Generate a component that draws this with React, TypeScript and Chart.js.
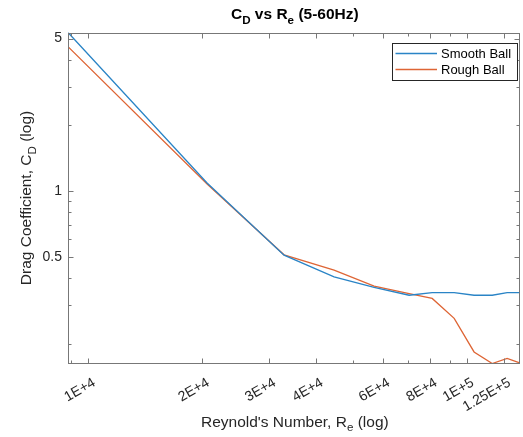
import React, { useEffect, useRef } from 'react';
import { Chart, registerables } from 'chart.js';

Chart.register(...registerables);

// ---- data ----
const reynolds = [8840, 20600, 32900, 44600, 56900, 70400, 81000, 92600, 104500, 116700, 127800, 137900];
const smoothBall = [5.33, 1.088, 0.508, 0.404, 0.362, 0.333, 0.342, 0.342, 0.333, 0.333, 0.342, 0.342];
const roughBall = [4.59, 1.077, 0.51, 0.434, 0.367, 0.339, 0.322, 0.261, 0.183, 0.162, 0.171, 0.163];

const seriesLabels = ['Smooth Ball', 'Rough Ball'];

const xTickValues = [1e4, 2e4, 3e4, 4e4, 6e4, 8e4, 1e5, 1.25e5];
const xTickLabels = ['1E+4', '2E+4', '3E+4', '4E+4', '6E+4', '8E+4', '1E+5', '1.25E+5'];
const xMinorTicks = [9e3, 5e4, 7e4, 9e4];

const yTickValues = [0.5, 1, 5];
const yTickLabels = ['0.5', '1', '5'];
const yMinorTicks = [0.2, 0.3, 0.4, 0.6, 0.7, 0.8, 0.9, 2, 3, 4];

type Part = { text: string; sub?: boolean };
const titleParts: Part[] = [{ text: 'C' }, { text: 'D', sub: true }, { text: ' vs R' }, { text: 'e', sub: true }, { text: ' (5-60Hz)' }];
const xTitleParts: Part[] = [{ text: "Reynold's Number, R" }, { text: 'e', sub: true }, { text: ' (log)' }];
const yTitleParts: Part[] = [{ text: 'Drag Coefficient, C' }, { text: 'D', sub: true }, { text: ' (log)' }];

const FONT = '"Liberation Sans", Arial, Helvetica, sans-serif';
const TEXT = '#262626';
const AXIS = '#777777';
const COLORS = ['#2a84c6', '#de6535'];

function drawRich(ctx: CanvasRenderingContext2D, parts: Part[], x: number, y: number, size: number, weight: string) {
  const subSize = size * 0.75;
  const widths = parts.map((p) => {
    ctx.font = `${weight} ${p.sub ? subSize : size}px ${FONT}`;
    return ctx.measureText(p.text).width;
  });
  const total = widths.reduce((s, w) => s + w, 0);
  let cx = x - total / 2;
  ctx.textAlign = 'left';
  ctx.textBaseline = 'alphabetic';
  parts.forEach((p, i) => {
    ctx.font = `${weight} ${p.sub ? subSize : size}px ${FONT}`;
    ctx.fillText(p.text, cx, y + (p.sub ? size * 0.32 : 0));
    cx += widths[i];
  });
}

const decorPlugin = {
  id: 'decor',
  afterDraw(chart: any) {
    const { ctx, chartArea: a, scales } = chart;
    const xs = scales.x;
    const ys = scales.y;
    ctx.save();
    // box
    ctx.strokeStyle = AXIS;
    ctx.lineWidth = 1;
    const L = Math.round(a.left) + 0.5;
    const R = Math.round(a.right) - 0.5;
    const T = Math.round(a.top) + 0.5;
    const B = Math.round(a.bottom) - 0.5;
    ctx.strokeRect(L, T, R - L, B - T);
    // tick marks (inward, on all four sides)
    ctx.beginPath();
    const xt = (vals: number[], len: number) =>
      vals.forEach((v) => {
        const px = Math.round(xs.getPixelForValue(v)) + 0.5;
        if (px < L || px > R) return;
        ctx.moveTo(px, B); ctx.lineTo(px, B - len);
        ctx.moveTo(px, T); ctx.lineTo(px, T + len);
      });
    const yt = (vals: number[], len: number) =>
      vals.forEach((v) => {
        const py = Math.round(ys.getPixelForValue(v)) + 0.5;
        if (py < T || py > B) return;
        ctx.moveTo(L, py); ctx.lineTo(L + len, py);
        ctx.moveTo(R, py); ctx.lineTo(R - len, py);
      });
    xt(xTickValues, 5);
    xt(xMinorTicks, 3);
    yt(yTickValues, 5);
    yt(yMinorTicks, 3);
    ctx.stroke();

    // titles
    ctx.fillStyle = '#000';
    const cx = (a.left + a.right) / 2 + 1;
    drawRich(ctx, titleParts, cx, 19, 15.5, 'bold');
    ctx.fillStyle = TEXT;
    drawRich(ctx, xTitleParts, cx, 426.5, 15.5, 'normal');
    ctx.save();
    ctx.translate(31, (a.top + a.bottom) / 2);
    ctx.rotate(-Math.PI / 2);
    drawRich(ctx, yTitleParts, 0, 0, 15.5, 'normal');
    ctx.restore();

    // legend
    const lx = 392.5, ly = 43.5, lw = 125, lh = 37;
    ctx.fillStyle = '#fff';
    ctx.fillRect(lx, ly, lw, lh);
    ctx.strokeStyle = TEXT;
    ctx.lineWidth = 1;
    ctx.strokeRect(lx, ly, lw, lh);
    chart.data.datasets.forEach((ds: any, i: number) => {
      const yy = 53.5 + i * 16;
      ctx.strokeStyle = COLORS[i];
      ctx.lineWidth = 1.3;
      ctx.beginPath();
      ctx.moveTo(395.5, yy);
      ctx.lineTo(437, yy);
      ctx.stroke();
      ctx.fillStyle = '#000';
      ctx.font = `13px ${FONT}`;
      ctx.textAlign = 'left';
      ctx.textBaseline = 'middle';
      ctx.fillText(ds.label, 441, yy + 0.5);
    });
    ctx.restore();
  },
};

export default function App() {
  const ref = useRef<HTMLCanvasElement>(null);
  useEffect(() => {
    if (!ref.current) return;
    const chart = new Chart(ref.current, {
      type: 'line',
      data: {
        datasets: [
          {
            label: seriesLabels[0],
            data: reynolds.map((x, i) => ({ x, y: smoothBall[i] })),
            borderColor: COLORS[0],
            borderWidth: 1.3,
            pointRadius: 0,
            tension: 0,
            fill: false,
          },
          {
            label: seriesLabels[1],
            data: reynolds.map((x, i) => ({ x, y: roughBall[i] })),
            borderColor: COLORS[1],
            borderWidth: 1.3,
            pointRadius: 0,
            tension: 0,
            fill: false,
          },
        ],
      },
      options: {
        animation: false,
        responsive: false,
        events: [],
        layout: { padding: { top: 32.5, right: 2.5, left: 0, bottom: 0 } },
        plugins: { legend: { display: false }, title: { display: false }, tooltip: { enabled: false } },
        scales: {
          x: {
            type: 'logarithmic',
            min: reynolds[0],
            max: reynolds[reynolds.length - 1],
            grid: { display: false, drawTicks: false },
            border: { display: false },
            afterBuildTicks: (s: any) => {
              s.ticks = xTickValues.map((v) => ({ value: v }));
            },
            afterFit: (s: any) => {
              s.height = 73.5;
            },
            ticks: {
              autoSkip: false,
              minRotation: 30,
              maxRotation: 30,
              padding: 11,
              labelOffset: 6,
              color: TEXT,
              font: { size: 14, family: FONT },
              callback: (v: any) => {
                const i = xTickValues.indexOf(Number(v));
                return i >= 0 ? xTickLabels[i] : '';
              },
            },
          },
          y: {
            type: 'logarithmic',
            min: Math.min(...roughBall),
            max: Math.max(...smoothBall),
            grid: { display: false, drawTicks: false },
            border: { display: false },
            afterBuildTicks: (s: any) => {
              s.ticks = yTickValues.map((v) => ({ value: v }));
            },
            afterFit: (s: any) => {
              s.width = 68;
            },
            ticks: {
              padding: 6,
              color: TEXT,
              font: { size: 14, family: FONT },
              callback: (v: any) => {
                const i = yTickValues.indexOf(Number(v));
                return i >= 0 ? yTickLabels[i] : '';
              },
            },
          },
        },
      },
      plugins: [decorPlugin],
    } as any);
    return () => chart.destroy();
  }, []);
  return (
    <div style={{ position: 'fixed', left: 0, top: 0, width: 523, height: 437, background: '#fff' }}>
      <canvas ref={ref} width={523} height={437} style={{ display: 'block' }} />
    </div>
  );
}
